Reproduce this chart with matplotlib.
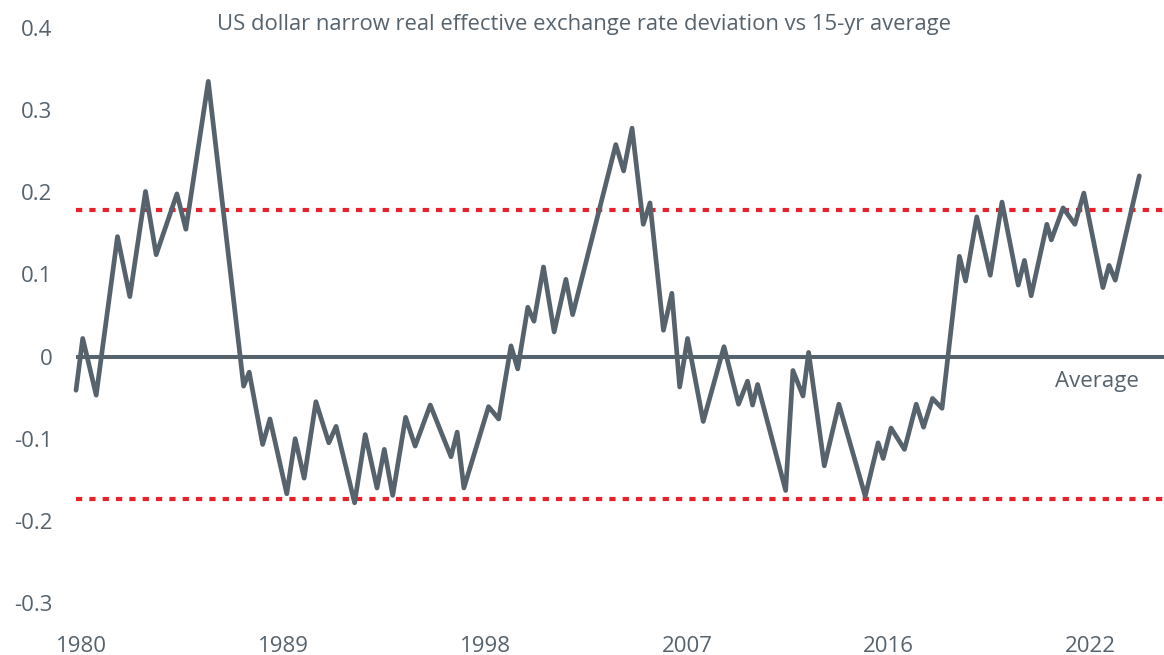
import matplotlib
matplotlib.use("Agg")
import matplotlib.pyplot as plt

plt.rcParams["font.family"] = ["Open Sans", "DejaVu Sans"]

# quarter index from start of series, deviation vs 15-yr average
period = [
    0.0, 1.2, 3.6, 7.4, 9.6, 12.4, 14.3, 18.0, 19.6, 23.6,
    29.9, 30.9, 33.3, 34.6, 37.6, 39.1, 40.7, 42.8, 45.1, 46.4,
    49.7, 51.6, 53.7, 55.0, 56.5, 58.8, 60.5, 63.2, 66.9, 68.0,
    69.2, 73.6, 75.4, 77.6, 78.8, 80.6, 81.7, 83.4, 85.3, 87.4,
    88.6, 96.3, 97.7, 99.2, 101.2, 102.4, 104.8, 106.3, 107.7, 109.1,
    111.9, 115.6, 118.2, 119.8, 120.7, 121.6, 126.6, 127.9, 129.7, 130.7,
    133.5, 136.1, 140.8, 143.1, 144.0, 145.4, 147.8, 149.9, 151.2, 152.8,
    154.5, 157.6, 158.7, 160.7, 163.1, 165.2, 168.1, 169.2, 170.4, 173.2,
    174.0, 176.1, 178.2, 179.8, 183.2, 184.3, 185.4, 189.7,
]
deviation = [
    -0.041, 0.022, -0.047, 0.146, 0.073, 0.201, 0.124, 0.198, 0.155, 0.335,
    -0.036, -0.019, -0.107, -0.076, -0.167, -0.100, -0.148, -0.055, -0.105, -0.085,
    -0.178, -0.095, -0.160, -0.113, -0.169, -0.074, -0.109, -0.059, -0.122, -0.092,
    -0.160, -0.061, -0.076, 0.013, -0.015, 0.060, 0.043, 0.109, 0.030, 0.094,
    0.051, 0.258, 0.226, 0.278, 0.161, 0.187, 0.032, 0.077, -0.037, 0.022,
    -0.079, 0.012, -0.058, -0.030, -0.059, -0.034, -0.163, -0.017, -0.048, 0.005,
    -0.133, -0.058, -0.170, -0.105, -0.124, -0.087, -0.113, -0.058, -0.086, -0.051,
    -0.063, 0.122, 0.092, 0.170, 0.099, 0.188, 0.087, 0.117, 0.074, 0.161,
    0.142, 0.181, 0.161, 0.199, 0.084, 0.111, 0.093, 0.220,
]
upper_band = 0.178
lower_band = -0.174

tick_pos = [1, 37, 73, 109, 145, 181]
tick_labels = ["1980", "1989", "1998", "2007", "2016", "2022"]
y_ticks = [-0.3, -0.2, -0.1, 0, 0.1, 0.2, 0.3, 0.4]
y_labels = ["-0.3", "-0.2", "-0.1", "0", "0.1", "0.2", "0.3", "0.4"]

GREY = "#56636d"
RED = "#e8202a"

fig = plt.figure(figsize=(11.64, 6.55), dpi=100)
ax = fig.add_axes([0.0653, 0.0794, 0.9347, 0.8779])

ax.axhline(upper_band, color=RED, lw=3, linestyle=(0, (1.5, 1.7)))
ax.axhline(lower_band, color=RED, lw=3, linestyle=(0, (1.5, 1.7)))
ax.axhline(0, color=GREY, lw=2.9)
ax.plot(period, deviation, color=GREY, lw=3.4, clip_on=False,
        solid_joinstyle="round", solid_capstyle="round")

ax.set_xlim(0, 194.1)
ax.set_ylim(-0.3, 0.4)
ax.set_xticks(tick_pos, tick_labels)
ax.set_yticks(y_ticks, y_labels)
ax.tick_params(length=0, labelsize=16, labelcolor=GREY)
ax.tick_params(axis="y", pad=17)
ax.tick_params(axis="x", pad=24)
for s in ax.spines.values():
    s.set_visible(False)

ax.text(189.7, -0.03, "Average", ha="right", va="center",
        fontsize=16, color=GREY)
fig.text(0.502, 0.963, "US dollar narrow real effective exchange rate deviation vs 15-yr average",
         ha="center", va="center", fontsize=15.8, color=GREY)

fig.savefig("out.png", dpi=100)
